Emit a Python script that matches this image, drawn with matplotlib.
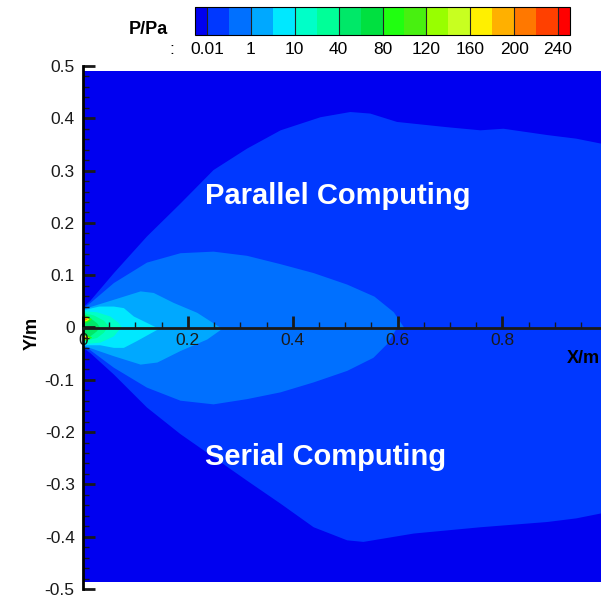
import matplotlib
matplotlib.use("Agg")
import matplotlib.pyplot as plt
import numpy as np
from matplotlib.colors import ListedColormap, BoundaryNorm
from matplotlib.cm import ScalarMappable
from matplotlib.ticker import MultipleLocator

plt.rcParams['font.family'] = ['Liberation Sans', 'DejaVu Sans']

# contour levels of the pressure legend (Pa)
levels = [0.01, 0.1, 1, 5, 10, 20, 40, 60, 80, 100, 120, 140, 160, 180, 200, 220, 240]
tick_levels = [0.01, 1, 10, 40, 80, 120, 160, 200, 240]
band_colors = ['#0038ff', '#0070ff', '#00a8ff', '#00e8ff', '#00ffc8', '#00ff98',
               '#00e868', '#00e040', '#20ff10', '#48f010', '#98ff00', '#c8ff20',
               '#fff000', '#ffb000', '#ff7800', '#ff4000']
under_color = '#0000f0'
over_color = '#ff0000'

# computational domain
domain_x = [0.0, 1.0]
domain_y = [-0.486, 0.49]

# upper half (parallel computing): contour envelopes, x [m] and y [m]
par_x = {
    0.01: [0, 0.013, 0.058, 0.121, 0.185, 0.248, 0.312, 0.376, 0.452, 0.509, 0.547,
           0.598, 0.693, 0.757, 0.801, 0.884, 0.94, 1.0],
    0.1: [0, 0.010, 0.058, 0.121, 0.185, 0.248, 0.312, 0.376, 0.439, 0.503, 0.555,
          0.592, 0.612],
    1: [0, 0.058, 0.109, 0.134, 0.172, 0.217, 0.262],
    5: [0, 0.030, 0.058, 0.077, 0.096, 0.141],
    10: [0, 0.026, 0.051, 0.067, 0.074],
    20: [0, 0.020, 0.039, 0.051],
    40: [0, 0.013, 0.026, 0.032],
}
par_y = {
    0.01: [0.040, 0.052, 0.105, 0.175, 0.238, 0.302, 0.343, 0.378, 0.403, 0.413, 0.410,
           0.394, 0.384, 0.378, 0.381, 0.369, 0.362, 0.350],
    0.1: [0.038, 0.045, 0.086, 0.125, 0.143, 0.146, 0.138, 0.122, 0.105, 0.083, 0.060,
          0.030, 0.0],
    1: [0.036, 0.054, 0.070, 0.067, 0.048, 0.029, 0.0],
    5: [0.034, 0.041, 0.041, 0.038, 0.022, 0.0],
    10: [0.032, 0.030, 0.022, 0.010, 0.0],
    20: [0.029, 0.024, 0.014, 0.0],
    40: [0.027, 0.019, 0.009, 0.0],
}

# lower half (serial computing)
ser_x = {
    0.01: [0, 0.013, 0.058, 0.121, 0.185, 0.248, 0.312, 0.376, 0.439, 0.503, 0.534,
           0.630, 0.757, 0.884, 0.94, 1.0],
    0.1: [0, 0.007, 0.058, 0.121, 0.185, 0.248, 0.312, 0.376, 0.439, 0.503, 0.553,
          0.579, 0.598],
    1: [0, 0.058, 0.109, 0.141, 0.185, 0.236, 0.267],
    5: [0, 0.032, 0.058, 0.077, 0.102, 0.147],
    10: [0, 0.032, 0.058, 0.071],
    20: [0, 0.026, 0.039, 0.045],
    40: [0, 0.013, 0.026, 0.029],
}
ser_y = {
    0.01: [-0.038, -0.048, -0.089, -0.152, -0.203, -0.247, -0.292, -0.336, -0.381, -0.406,
           -0.409, -0.393, -0.381, -0.371, -0.364, -0.352],
    0.1: [-0.036, -0.038, -0.076, -0.114, -0.139, -0.146, -0.136, -0.123, -0.104, -0.082,
          -0.057, -0.031, 0.0],
    1: [-0.034, -0.054, -0.070, -0.066, -0.044, -0.022, 0.0],
    5: [-0.033, -0.033, -0.038, -0.038, -0.025, 0.0],
    10: [-0.031, -0.028, -0.016, 0.0],
    20: [-0.026, -0.019, -0.009, 0.0],
    40: [-0.023, -0.016, -0.006, 0.0],
}

# small high pressure spots next to the inlet: level, x, y bottom, y top
spot_levels = [80, 160, 200, 80, 160, 200]
spot_x = [[0, 0.008, 0.016], [0, 0.006, 0.011], [0, 0.004, 0.007],
          [0, 0.008, 0.016], [0, 0.006, 0.011], [0, 0.004, 0.007]]
spot_lo = [[0.009, 0.011, 0.016], [0.012, 0.013, 0.016], [0.014, 0.015, 0.016],
           [-0.025, -0.023, -0.019], [-0.023, -0.021, -0.019], [-0.022, -0.021, -0.020]]
spot_hi = [[0.025, 0.022, 0.017], [0.022, 0.020, 0.017], [0.020, 0.018, 0.017],
           [-0.012, -0.014, -0.018], [-0.014, -0.016, -0.018], [-0.016, -0.017, -0.019]]

cmap = ListedColormap(band_colors)
cmap.set_under(under_color)
cmap.set_over(over_color)
norm = BoundaryNorm(levels, cmap.N)

fig = plt.figure(figsize=(6.01, 5.98), dpi=100)
ax = fig.add_axes([83 / 601, 1 - 589 / 598, 1 - 83 / 601, 523 / 598])

ax.fill_between(domain_x, domain_y[0], domain_y[1], color=under_color, lw=0)
for lev in [0.01, 0.1, 1, 5, 10, 20, 40]:
    c = cmap(norm(lev))
    ax.fill_between(par_x[lev], 0, par_y[lev], color=c, lw=0)
    ax.fill_between(ser_x[lev], ser_y[lev], 0, color=c, lw=0)
for lev, xs, lo, hi in zip(spot_levels, spot_x, spot_lo, spot_hi):
    ax.fill_between(xs, lo, hi, color=cmap(norm(lev)), lw=0)

ax.set_xlim(0, 0.988)
ax.set_ylim(-0.5, 0.5)

for s in ['top', 'right']:
    ax.spines[s].set_visible(False)
ax.spines['bottom'].set_position(('data', 0))
ax.spines['bottom'].set_linewidth(2)
ax.spines['left'].set_linewidth(2)
ax.spines['bottom'].set_color('#1a1a1a')

ax.xaxis.set_major_locator(MultipleLocator(0.2))
ax.xaxis.set_minor_locator(MultipleLocator(0.05))
ax.yaxis.set_major_locator(MultipleLocator(0.1))
ax.yaxis.set_minor_locator(MultipleLocator(0.02))
ax.xaxis.set_major_formatter(lambda v, p: '0' if abs(v) < 1e-9 else f'{v:.1f}')
ax.yaxis.set_major_formatter(lambda v, p: '0' if abs(v) < 1e-9 else f'{v:.1f}')

ax.tick_params(which='major', direction='in', length=8.5, width=2, labelsize=12.5,
               colors='#1a1a1a')
ax.tick_params(which='minor', direction='in', length=4, width=1, colors='#1a1a1a')
ax.tick_params(axis='x', which='major', pad=4)
ax.tick_params(axis='y', which='major', pad=6)

ax.text(0.923, -0.06, 'X/m', fontsize=13, fontweight='bold', ha='left', va='center')
fig.text(32 / 601, 1 - 333 / 598, 'Y/m', fontsize=13, fontweight='bold', rotation=90,
         ha='center', va='center')

ax.text(0.2326, 0.252, 'Parallel Computing', fontsize=21, fontweight='bold',
        color='white', ha='left', va='center')
ax.text(0.2326, -0.248, 'Serial Computing', fontsize=21, fontweight='bold',
        color='white', ha='left', va='center')

# legend bar
cax = fig.add_axes([195 / 601, 1 - 35 / 598, 375 / 601, 28 / 598])
cb = fig.colorbar(ScalarMappable(norm=norm, cmap=cmap), cax=cax, orientation='horizontal',
                  extend='both', extendrect=True, extendfrac=0.034, ticks=tick_levels)
cb.set_ticklabels(['0.01', '1', '10', '40', '80', '120', '160', '200', '240'])
cb.outline.set_linewidth(0.8)
cb.ax.tick_params(direction='in', length=20, width=0.8, color='#222222', labelsize=12.5,
                  pad=5)
cb.ax.minorticks_off()
fig.text(168 / 601, 1 - 30 / 598, 'P/Pa', fontsize=13, fontweight='bold', ha='right',
         va='center')
fig.text(172 / 601, 1 - 49 / 598, ':', fontsize=12.5, ha='center', va='center')

fig.savefig('out.png', dpi=100)
